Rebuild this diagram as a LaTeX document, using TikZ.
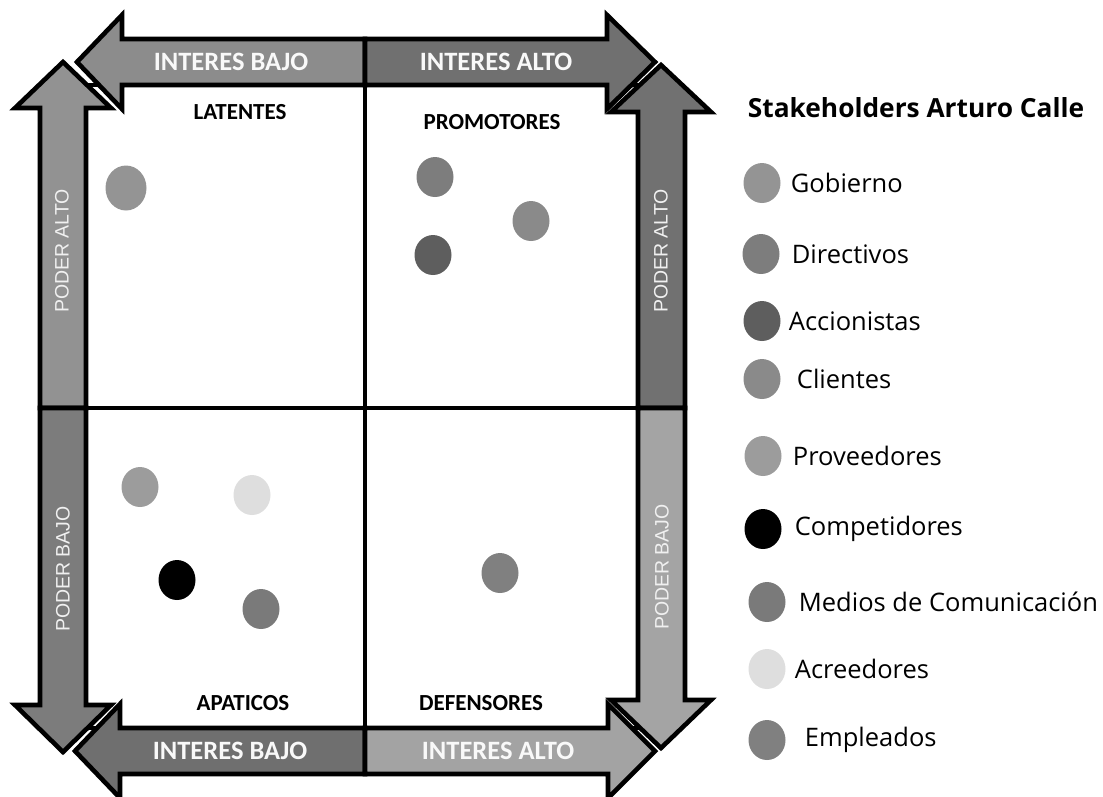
\documentclass[tikz,border=0pt]{standalone}
\usepackage{fontspec}
\setmainfont{Open Sans}
\newfontfamily\calib{Carlito}
\newfontfamily\arialf{Liberation Sans}
\usetikzlibrary{positioning,shapes.geometric}
\definecolor{topL}{HTML}{8C8C8C}
\definecolor{topR}{HTML}{707070}
\definecolor{leftU}{HTML}{929292}
\definecolor{leftD}{HTML}{7C7C7C}
\definecolor{rightU}{HTML}{717171}
\definecolor{rightD}{HTML}{A4A4A4}
\definecolor{botL}{HTML}{6F6F6F}
\definecolor{botR}{HTML}{A3A3A3}
\begin{document}
\begin{tikzpicture}[x=1pt, y=-1pt,
    part/.style={draw=black, line width=4.6pt, line join=miter},
    dot/.style={ellipse, inner sep=0, minimum width=37pt, minimum height=40pt},
    quad/.style={font=\calib\bfseries\fontsize{23}{23}\selectfont},
    flecha/.style={font=\calib\bfseries\fontsize{26.5}{26.5}\selectfont, text=white!95!gray},
    poder/.style={font=\arialf\fontsize{19.5}{19.5}\selectfont, text=white!88!gray, rotate=90},
    leyenda/.style={font=\fontsize{25.5}{25.5}\selectfont, inner sep=0}]
                \useasboundingbox (0,0) rectangle (1103,796);

                \draw [line width=4pt] (86,85) rectangle (638,728);
                \draw [line width=4pt] (365,85) -- (365,728);
                \draw [line width=4pt] (86,408) -- (638,408);

                \path [part, fill=topL] (365,39) -- (122,39) -- (122,15) -- (77,62) -- (122,109) -- (122,85) -- (365,85) -- cycle;
                \path [part, fill=topR] (365,39) -- (607,39) -- (607,15) -- (655,62) -- (607,109) -- (607,85) -- (365,85) -- cycle;
                \path [part, fill=botL] (365,728) -- (120,728) -- (120,704) -- (75,751) -- (120,798) -- (120,774) -- (365,774) -- cycle;
                \path [part, fill=botR] (365,728) -- (608,728) -- (608,704) -- (655,751) -- (608,798) -- (608,774) -- (365,774) -- cycle;
                \path [part, fill=leftU] (40,408) -- (40,108) -- (15,108) -- (63,62) -- (111,108) -- (86,108) -- (86,408) -- cycle;
                \path [part, fill=leftD] (40,408) -- (40,705) -- (15,705) -- (63,752) -- (111,705) -- (86,705) -- (86,408) -- cycle;
                \path [part, fill=rightU] (638,408) -- (638,112) -- (611,112) -- (661,65) -- (711,112) -- (685,112) -- (685,408) -- cycle;
                \path [part, fill=rightD] (638,408) -- (638,700) -- (611,700) -- (661,748) -- (711,700) -- (685,700) -- (685,408) -- cycle;

                \node (ibT) [flecha] at (231,62) {INTERES BAJO};
                \node (iaT) [flecha] at (496,62) {INTERES ALTO};
                \node (ibB) [flecha] at (230,751) {INTERES BAJO};
                \node (iaB) [flecha] at (498,751) {INTERES ALTO};
                \node (paL) [poder] at (62,251) {PODER ALTO};
                \node (pbL) [poder] at (63,569) {PODER BAJO};
                \node (paR) [poder] at (661,251) {PODER ALTO};
                \node (pbR) [poder] at (662,567) {PODER BAJO};

                \node (latentes) [quad] at (240,112) {LATENTES};
                \node (promotores) [quad] at (492,122) {PROMOTORES};
                \node (apaticos) [quad] at (243,703) {APATICOS};
                \node (defensores) [quad] at (481,703) {DEFENSORES};

                \node (gob) [dot, fill=black!42, minimum width=41pt, minimum height=45pt] at (126,188) {};
                \node (dir) [dot, fill=black!51] at (435,177) {};
                \node (acc) [dot, fill=black!63] at (433,255) {};
                \node (cli) [dot, fill=black!46] at (531,221) {};
                \node (pro) [dot, fill=black!39] at (140,487) {};
                \node (acr) [dot, fill=black!13] at (252,495) {};
                \node (com) [dot, fill=black] at (177,580) {};
                \node (med) [dot, fill=black!52] at (261,609) {};
                \node (emp) [dot, fill=black!50] at (500,573) {};

                \node (titulo) [leyenda, font=\bfseries\fontsize{26.3}{26.3}\selectfont] at (916,108) {Stakeholders Arturo Calle};
                \node (lgob) [dot, fill=black!42] at (762,183) {};
                \node (ldir) [dot, fill=black!51] at (761,254) {};
                \node (lacc) [dot, fill=black!63] at (762,321) {};
                \node (lcli) [dot, fill=black!46] at (762,379) {};
                \node (lpro) [dot, fill=black!39] at (763,456) {};
                \node (lcom) [dot, fill=black] at (763,529) {};
                \node (lmed) [dot, fill=black!52] at (767,602) {};
                \node (lacr) [dot, fill=black!13] at (767,669) {};
                \node (lemp) [dot, fill=black!50] at (767,740) {};
                \node [leyenda, right=10pt of lgob] {Gobierno};
                \node [leyenda, right=12pt of ldir] {Directivos};
                \node [leyenda, right=8pt of lacc] {Accionistas};
                \node [leyenda, right=16pt of lcli] {Clientes};
                \node [leyenda, right=11pt of lpro] {Proveedores};
                \node [leyenda, right=13pt of lcom] {Competidores};
                \node [leyenda, right=13pt of lmed] {Medios de Comunicación};
                \node [leyenda, right=9pt of lacr] {Acreedores};
                \node [leyenda, right=19pt of lemp] {Empleados};
            \end{tikzpicture}
\end{document}
